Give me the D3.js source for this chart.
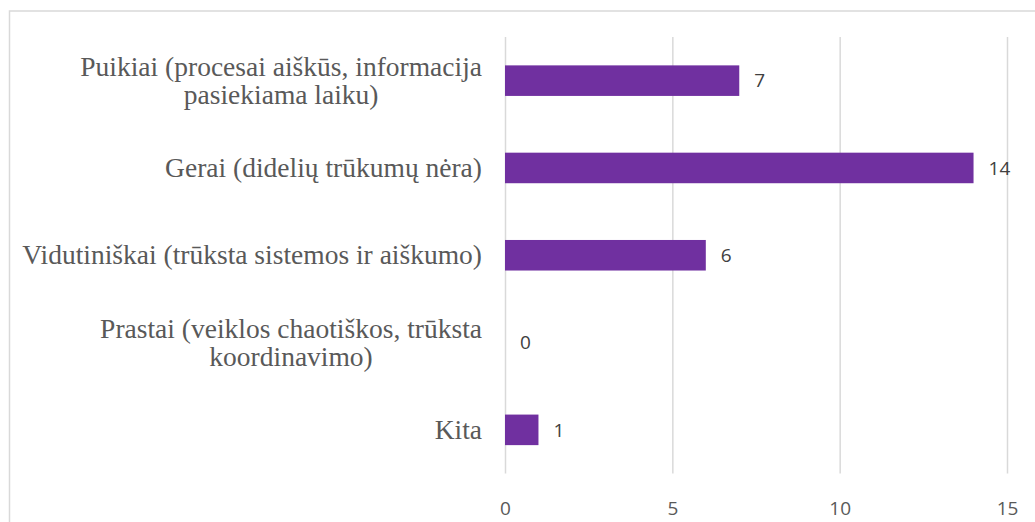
<!DOCTYPE html>
<html><head><meta charset="utf-8">
<script src="https://cdn.jsdelivr.net/npm/d3@7"></script>
<style>body{margin:0;background:#fff;} svg{display:block;}</style>
</head><body>
<script>
const categories = [
  ["Puikiai (procesai aiškūs, informacija", "pasiekiama laiku)"],
  ["Gerai (didelių trūkumų nėra)"],
  ["Vidutiniškai (trūksta sistemos ir aiškumo)"],
  ["Prastai (veiklos chaotiškos, trūksta", "koordinavimo)"],
  ["Kita"]
];
const values = [7, 14, 6, 0, 1];
const tickValues = [0, 5, 10, 15];

const W = 1035, H = 522;
const svg = d3.select("body").append("svg").attr("width", W).attr("height", H);

// chart border
svg.append("rect").attr("x", 9.5).attr("y", 11).attr("width", 1040).attr("height", 600)
  .attr("fill", "none").attr("stroke", "#d9d9d9").attr("stroke-width", 1.5);

const plotTop = 37, plotBottom = 473.5;
const x = d3.scaleLinear().domain([0, 15]).range([505, 1007]);
const y = d3.scaleBand().domain(d3.range(categories.length)).range([plotTop, plotBottom]).paddingInner(0.65).paddingOuter(0.325);

// gridlines + tick labels
const xAxis = d3.axisBottom(x).tickValues(tickValues).tickSize(-(plotBottom - plotTop)).tickPadding(28);
const gx = svg.append("g").attr("transform", `translate(0,${plotBottom})`).call(xAxis);
gx.select(".domain").remove();
gx.selectAll(".tick line").attr("stroke", "#d9d9d9").attr("stroke-width", 1.5);
gx.selectAll(".tick text").attr("fill", "#595959").attr("font-family", "'Open Sans', sans-serif").attr("font-size", 19).attr("dy", "0.71em");

// bars
svg.append("g").selectAll("rect").data(values).join("rect")
  .attr("x", x(0)).attr("y", (d, i) => y(i))
  .attr("width", d => x(d) - x(0)).attr("height", y.bandwidth())
  .attr("fill", "#7030A0");

// value labels
svg.append("g").selectAll("text").data(values).join("text")
  .attr("x", d => x(d) + 15).attr("y", (d, i) => y(i) + y.bandwidth() / 2)
  .attr("dy", "0.36em")
  .attr("font-family", "'Open Sans', sans-serif").attr("font-size", 19).attr("fill", "#404040")
  .text(d => d);

// category labels
const lineH = 28;
const cat = svg.append("g").selectAll("text").data(categories).join("text")
  .attr("font-family", "'Liberation Serif', 'Times New Roman', serif").attr("font-size", 27.5)
  .attr("fill", "#595959").attr("text-anchor", "middle");
cat.each(function(lines, i) {
  const t = d3.select(this);
  const cy = y(i) + y.bandwidth() / 2;
  const n = lines.length;
  lines.forEach((ln, k) => {
    t.append("tspan").attr("x", 0).attr("y", cy + (k - (n - 1) / 2) * lineH).attr("dy", "0.33em").text(ln);
  });
});
cat.each(function() {
  const t = d3.select(this);
  let maxW = 0;
  t.selectAll("tspan").each(function() { maxW = Math.max(maxW, this.getComputedTextLength()); });
  t.selectAll("tspan").attr("x", 482 - maxW / 2);
});
</script>
</body></html>
